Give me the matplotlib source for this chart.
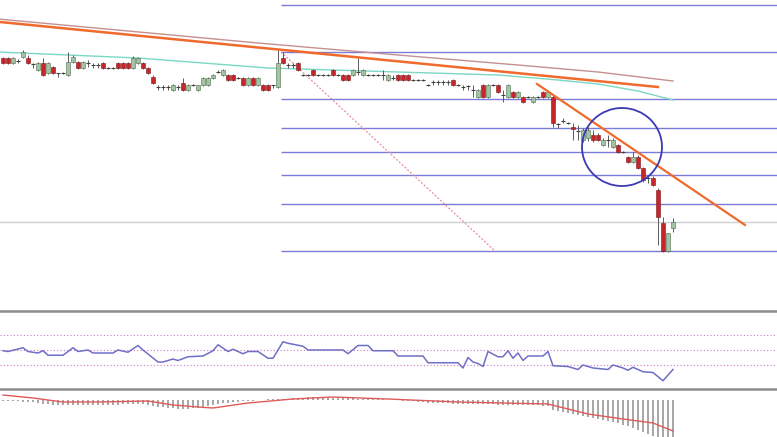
import numpy as np
import matplotlib
matplotlib.use('Agg')
import matplotlib.pyplot as plt
from matplotlib.patches import Ellipse

# candle prices (arbitrary points), one entry per bar
opens = [242, 242, 237, 239, 243, 242, 236, 230, 237, 227,
         233, 227, 227, 225, 238, 238, 232, 237, 235, 235,
         237, 232, 232, 237, 237, 237, 232, 237, 237, 232,
         223, 213, 213, 213, 210, 213, 217, 210, 215, 210,
         215, 215, 222, 228, 225, 225, 225, 222, 222, 215,
         222, 215, 215, 215, 215, 213, 242, 235, 235, 237,
         225, 225, 230, 225, 225, 225, 230, 225, 225, 225,
         225, 228, 225, 225, 225, 225, 225, 220, 222, 225,
         225, 225, 220, 220, 220, 215, 218, 218, 218, 218,
         220, 215, 213, 214, 210, 203, 215, 203, 215, 215,
         205, 203, 208, 203, 203, 203, 198, 203, 208, 203,
         203, 176, 179, 177, 173, 169, 160, 162, 165, 165,
         155, 160, 153, 155, 148, 143, 138, 143, 132, 122,
         122, 110, 77, 49, 72]
closes = [237, 237, 242, 239, 248, 237, 236, 237, 225, 237,
          227, 227, 227, 238, 243, 232, 238, 237, 235, 235,
          232, 232, 232, 232, 232, 232, 242, 242, 232, 227,
          217, 213, 213, 213, 215, 213, 210, 215, 215, 215,
          222, 222, 225, 228, 230, 220, 220, 222, 215, 222,
          215, 222, 210, 210, 215, 237, 237, 235, 235, 230,
          225, 225, 225, 225, 225, 225, 225, 225, 220, 220,
          230, 228, 230, 225, 225, 225, 225, 225, 222, 220,
          220, 220, 220, 220, 220, 215, 218, 218, 218, 218,
          215, 215, 213, 214, 210, 210, 203, 215, 215, 208,
          205, 215, 203, 208, 198, 203, 203, 203, 203, 208,
          177, 176, 179, 177, 171, 169, 170, 170, 160, 160,
          160, 160, 160, 148, 148, 138, 143, 132, 120, 122,
          115, 83, 49, 67, 78]
highs = [243, 243, 243, 241, 250, 245, 237, 238, 242, 238,
         234, 227, 228, 248, 245, 239, 239, 240, 237, 237,
         238, 233, 233, 238, 238, 238, 244, 243, 238, 233,
         225, 215, 215, 215, 216, 215, 222, 216, 216, 215,
         223, 223, 226, 230, 231, 226, 226, 223, 223, 223,
         223, 223, 216, 216, 215, 250, 248, 237, 237, 238,
         226, 226, 231, 226, 226, 226, 231, 226, 226, 226,
         231, 242, 231, 226, 226, 226, 230, 226, 225, 226,
         226, 226, 221, 221, 221, 216, 220, 220, 220, 220,
         221, 216, 215, 215, 215, 211, 216, 216, 216, 216,
         210, 216, 209, 209, 204, 204, 204, 204, 209, 210,
         205, 177, 182, 178, 177, 175, 172, 173, 170, 167,
         162, 165, 162, 156, 149, 144, 148, 145, 133, 125,
         124, 112, 83, 67, 82]
lows = [236, 236, 236, 237, 242, 236, 232, 229, 224, 226,
        226, 223, 226, 224, 237, 231, 231, 233, 232, 232,
        231, 231, 231, 231, 231, 231, 231, 236, 231, 226,
        216, 210, 210, 210, 209, 210, 209, 209, 214, 209,
        214, 214, 221, 227, 224, 219, 219, 221, 214, 214,
        214, 214, 209, 209, 212, 212, 236, 232, 232, 229,
        224, 224, 224, 224, 224, 224, 224, 224, 219, 219,
        224, 225, 224, 224, 224, 224, 220, 219, 220, 219,
        219, 219, 219, 219, 219, 214, 215, 215, 215, 215,
        214, 214, 210, 210, 203, 202, 202, 202, 214, 207,
        198, 202, 202, 202, 197, 202, 197, 202, 202, 202,
        173, 172, 177, 176, 160, 160, 158, 159, 158, 159,
        154, 153, 152, 147, 147, 137, 137, 131, 118, 117,
        114, 55, 48, 48, 68]

# moving averages (bar index, price)
ma_slow_idx = [-1, 25, 51, 79, 103, 119, 134]
ma_slow_val = [281, 269, 257, 245, 235, 228, 219]
ma_fast_idx = [-1, 27, 53, 79, 99, 111, 119, 127, 134]
ma_fast_val = [248, 242, 232, 228, 225, 220, 216, 209, 200]

# drawn trend lines (bar index, price)
trend_a_idx = [-0.6, 131]
trend_a_val = [278, 213]
trend_b_idx = [106.8, 148.4]
trend_b_val = [216, 75]

# fibonacci tool
fib_start, fib_end = 55.6, 98.4
fib_high, fib_low = 248, 49
fib_ratios = [0, 0.236, 0.382, 0.5, 0.618, 0.764, 1.0, 1.236]

# RSI (bar index, value)
rsi_idx = [0, 1, 4, 5, 7, 8, 9, 12, 14, 15, 17, 18, 22, 23, 25, 27, 28, 31, 32, 34,
           35, 37, 40, 42, 43, 45, 46, 48, 49, 51, 53, 54, 56, 57, 60, 61, 68, 69, 71, 73,
           74, 78, 79, 84, 85, 91, 92, 93, 94, 95, 96, 97, 99, 100, 101, 102, 103, 104, 105, 108,
           109, 110, 113, 115, 116, 118, 121, 122, 124, 125, 126, 128, 130, 132, 134]
rsi_val = [49, 48, 53, 48, 46, 49, 43, 43, 53, 48, 50, 46, 46, 50, 47, 56, 50, 34, 34, 38,
           36, 41, 42, 49, 57, 48, 51, 45, 48, 48, 39, 39, 61, 59, 55, 50, 50, 45, 56, 56,
           49, 49, 42, 42, 33, 33, 26, 40, 34, 32, 28, 48, 41, 41, 49, 39, 46, 36, 42, 42,
           48, 29, 28, 24, 30, 26, 24, 30, 26, 23, 27, 21, 20, 9, 24]
rsi_levels = [30, 50, 70]

# MACD histogram, one per bar, and signal line (bar index, value)
macd_hist = [-1, -1, -1, -1, -2, -2, -2, -3,
             -4, -4, -5, -5, -5, -5, -5, -5, -5, -5, -5, -5, -5, -5, -5, -5, -4, -4,
             -4, -4, -4, -5,
             -6, -7, -7, -8, -8, -9, -9, -9, -8, -8, -7, -6, -5,
             -4, -3, -3, -2, -2, -1, -1, -1, 0, 0, 1, 1, 1, 1, 1,
             2, 2, 2, 3, 3, 3, 3, 2, 2, 2, 2, 2, 2, 1, 1, 1, 1, 1, 1, 0,
             0, 0, -1, -1, -1, -2, -2,
             -3, -3, -3, -3, -3, -4, -4, -4, -4, -4, -4, -4, -4, -4, -5, -5, -5, -5, -5,
             -5, -5, -5, -5, -6, -6,
             -10, -11, -12, -13, -14, -15, -16, -17, -18, -19, -20, -21, -22, -23, -25,
             -26, -28, -30, -32, -34, -36, -38, -40, -40, -40]
signal_idx = [0, 6, 12, 19, 29, 34, 39, 42, 49, 58, 66, 77, 91, 109, 117, 124, 130, 134]
signal_val = [5, 2, -2, -2, -1, -5, -7, -8, -3, 1, 3, 1, -2, -4, -14, -19, -23, -31]

X_MIN, X_MAX = -0.6, 154.8

fig = plt.figure(figsize=(7.77, 4.37), dpi=100)
fig.patch.set_facecolor('white')

# ---- price panel
ax = fig.add_axes([0, 127 / 437, 1, 310 / 437])
ax.set_xlim(X_MIN, X_MAX)
ax.set_ylim(-10, 300)
ax.axis('off')

x = np.arange(len(opens))
o = np.array(opens, float)
c = np.array(closes, float)
h = np.array(highs, float)
l = np.array(lows, float)
up = c > o
down = c < o
flat = c == o

levels = [fib_low + r * (fib_high - fib_low) for r in fib_ratios]
ax.hlines(levels, fib_start, X_MAX, color='#7b7bd8', lw=1.0, zorder=1)
ax.plot([fib_start, fib_end], [fib_high, fib_low], color='#e58a96', lw=0.9,
        ls=(0, (1.5, 1.5)), zorder=1)
ax.axhline(closes[-1], color='#d0d0d0', lw=1.0, zorder=1)

ax.plot(ma_slow_idx, ma_slow_val, color='#c49090', lw=1.0, zorder=2)
ax.plot(ma_fast_idx, ma_fast_val, color='#7ad8c4', lw=1.0, zorder=2)

ax.vlines(x, l, h, color='#5a5a5a', lw=0.7, zorder=3)
ax.bar(x[down], (o - c)[down], bottom=c[down], width=0.7, color='#c8252b',
       edgecolor='#7a1a1a', lw=0.4, zorder=4)
ax.bar(x[up], (c - o)[up], bottom=o[up], width=0.7, color='#a3c4a3',
       edgecolor='#4f6f4f', lw=0.4, zorder=4)
ax.hlines(c[flat], x[flat] - 0.4, x[flat] + 0.4, color='#404040', lw=0.8, zorder=4)

ax.plot(trend_a_idx, trend_a_val, color='#ef6a2c', lw=1.8, zorder=5)
ax.plot(trend_b_idx, trend_b_val, color='#ef6a2c', lw=1.6, zorder=5)
ax.add_patch(Ellipse((123.8, 153), 16, 78, fill=False, edgecolor='#3a3ab4',
                     lw=1.3, zorder=6))

# ---- RSI panel
rax = fig.add_axes([0, 48 / 437, 1, 78 / 437])
rax.set_xlim(X_MIN, X_MAX)
rax.set_ylim(-2, 102)
rax.set_xticks([])
rax.set_yticks([])
for side in ('left', 'right'):
    rax.spines[side].set_visible(False)
for side in ('top', 'bottom'):
    rax.spines[side].set_color('#8c8c8c')
    rax.spines[side].set_linewidth(1.8)
rax.hlines(rsi_levels, X_MIN, X_MAX, color='#c27ac8', lw=0.8, ls=(0, (1, 2)))
rax.plot(rsi_idx, rsi_val, color='#6f6fc6', lw=1.1)

# ---- MACD panel
max_ = fig.add_axes([0, 0, 1, 47 / 437])
max_.set_xlim(X_MIN, X_MAX)
max_.set_ylim(-37, 10)
max_.axis('off')
max_.bar(x, macd_hist, width=0.3, color='#a8a8a8')
max_.plot(signal_idx, signal_val, color='#e05a5a', lw=1.0)

fig.savefig('out.png', dpi=100, facecolor='white')
